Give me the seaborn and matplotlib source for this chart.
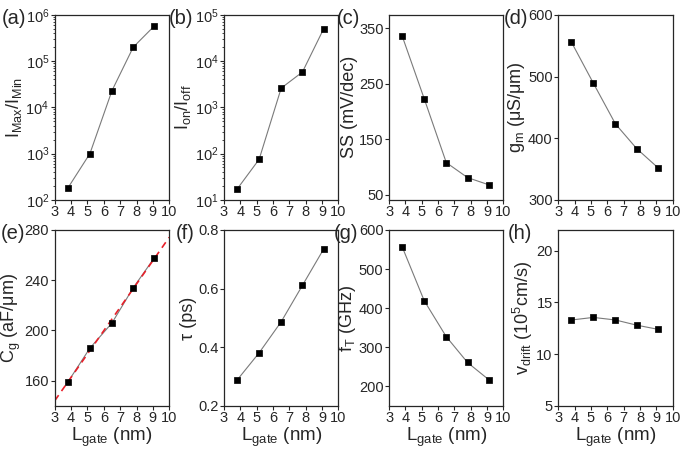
import numpy as np
import pandas as pd
import matplotlib
matplotlib.use("Agg")
import matplotlib.pyplot as plt
import seaborn as sns
from matplotlib.ticker import LogLocator, LogFormatterMathtext, NullFormatter

# ---------------------------------------------
# data
# ---------------------------------------------
l_gate = [3.8, 5.15, 6.5, 7.8, 9.1]

imax_imin = [180, 1000, 2.3e4, 2.0e5, 5.8e5]
ion_ioff = [17, 75, 2.6e3, 5.8e3, 5.0e4]
ss = [336, 223, 108, 81, 68]
gm = [556, 489, 423, 383, 352]
cg = [159, 186, 206, 234, 258]
tau = [0.288, 0.381, 0.487, 0.611, 0.735]
ft = [557, 419, 327, 261, 217]
vdrift = [13.3, 13.55, 13.3, 12.8, 12.4]

sns.set_style("ticks")
plt.rcParams['font.family'] = ['Liberation Sans', 'DejaVu Sans']
plt.rcParams['mathtext.fontset'] = 'custom'
plt.rcParams['mathtext.rm'] = 'Liberation Sans'
plt.rcParams['mathtext.it'] = 'Liberation Sans:italic'
plt.rcParams['mathtext.default'] = 'regular'

# tag, values, y label, scale, y range, y ticks, tag offset (axes fraction)
panels = [
    ('(a)', imax_imin, r'I$_{Max}$/I$_{Min}$', 'log', (1e2, 1e6), None, 0.25),
    ('(b)', ion_ioff, r'I$_{on}$/I$_{off}$', 'log', (1e1, 1e5), None, 0.27),
    ('(c)', ss, 'SS (mV/dec)', 'linear', (41, 374), [50, 150, 250, 350], 0.25),
    ('(d)', gm, r'g$_m$ (μS/μm)', 'linear', (300, 600), [300, 400, 500, 600], 0.26),
    ('(e)', cg, r'C$_g$ (aF/μm)', 'linear', (140, 280), [160, 200, 240, 280], 0.26),
    ('(f)', tau, 'τ (ps)', 'linear', (0.2, 0.8), [0.2, 0.4, 0.6, 0.8], 0.26),
    ('(g)', ft, r'f$_T$ (GHz)', 'linear', (150, 600), [200, 300, 400, 500, 600], 0.27),
    ('(h)', vdrift, r'v$_{drift}$ (10$^5$cm/s)', 'linear', (5, 22), [5, 10, 15, 20], 0.23),
]

fig = plt.figure(figsize=(6.85, 4.5), dpi=100)
lefts = [0.080, 0.327, 0.568, 0.815]
w = 0.167
rows = [(0.556, 0.411), (0.098, 0.391)]

for i, (tag, vals, ylab, scale, ylim, yticks, off) in enumerate(panels):
    r, c = divmod(i, 4)
    ax = fig.add_axes([lefts[c], rows[r][0], w, rows[r][1]])
    df = pd.DataFrame({'x': l_gate, 'y': vals})
    sns.lineplot(data=df, x='x', y='y', ax=ax, color='#7a7a7a', lw=0.8)
    sns.scatterplot(data=df, x='x', y='y', ax=ax, marker='s', color='black',
                    s=22, edgecolor='black', linewidth=0.5, zorder=3)
    if tag == '(e)':
        k, b = np.polyfit(l_gate, cg, 1)
        xf = np.array([3, 10])
        ax.plot(xf, k * xf + b, color='#e8202a', ls=(0, (4, 3)), lw=1.2, zorder=2)
    ax.set_yscale(scale)
    ax.set_ylim(*ylim)
    ax.set_xlim(3, 10)
    ax.set_xticks(range(3, 11))
    if scale == 'log':
        ax.yaxis.set_major_locator(LogLocator(base=10))
        ax.yaxis.set_major_formatter(LogFormatterMathtext())
        ax.yaxis.set_minor_locator(LogLocator(base=10, subs=np.arange(2, 10)))
        ax.yaxis.set_minor_formatter(NullFormatter())
    else:
        ax.set_yticks(yticks)
    ax.tick_params(direction='out', length=3, width=0.8, labelsize=10.5, pad=1)
    ax.tick_params(which='minor', length=1.5, width=0.6)
    for sp in ax.spines.values():
        sp.set_linewidth(0.9)
    ax.set_ylabel(ylab, fontsize=13, labelpad=1)
    if r == 1:
        ax.set_xlabel(r'L$_{gate}$ (nm)', fontsize=13.5, labelpad=0)
    else:
        ax.set_xlabel('')
    ax.text(-off, 0.98, tag, transform=ax.transAxes, ha='right', va='center',
            fontsize=14.5)

fig.savefig('out.png', dpi=100)
